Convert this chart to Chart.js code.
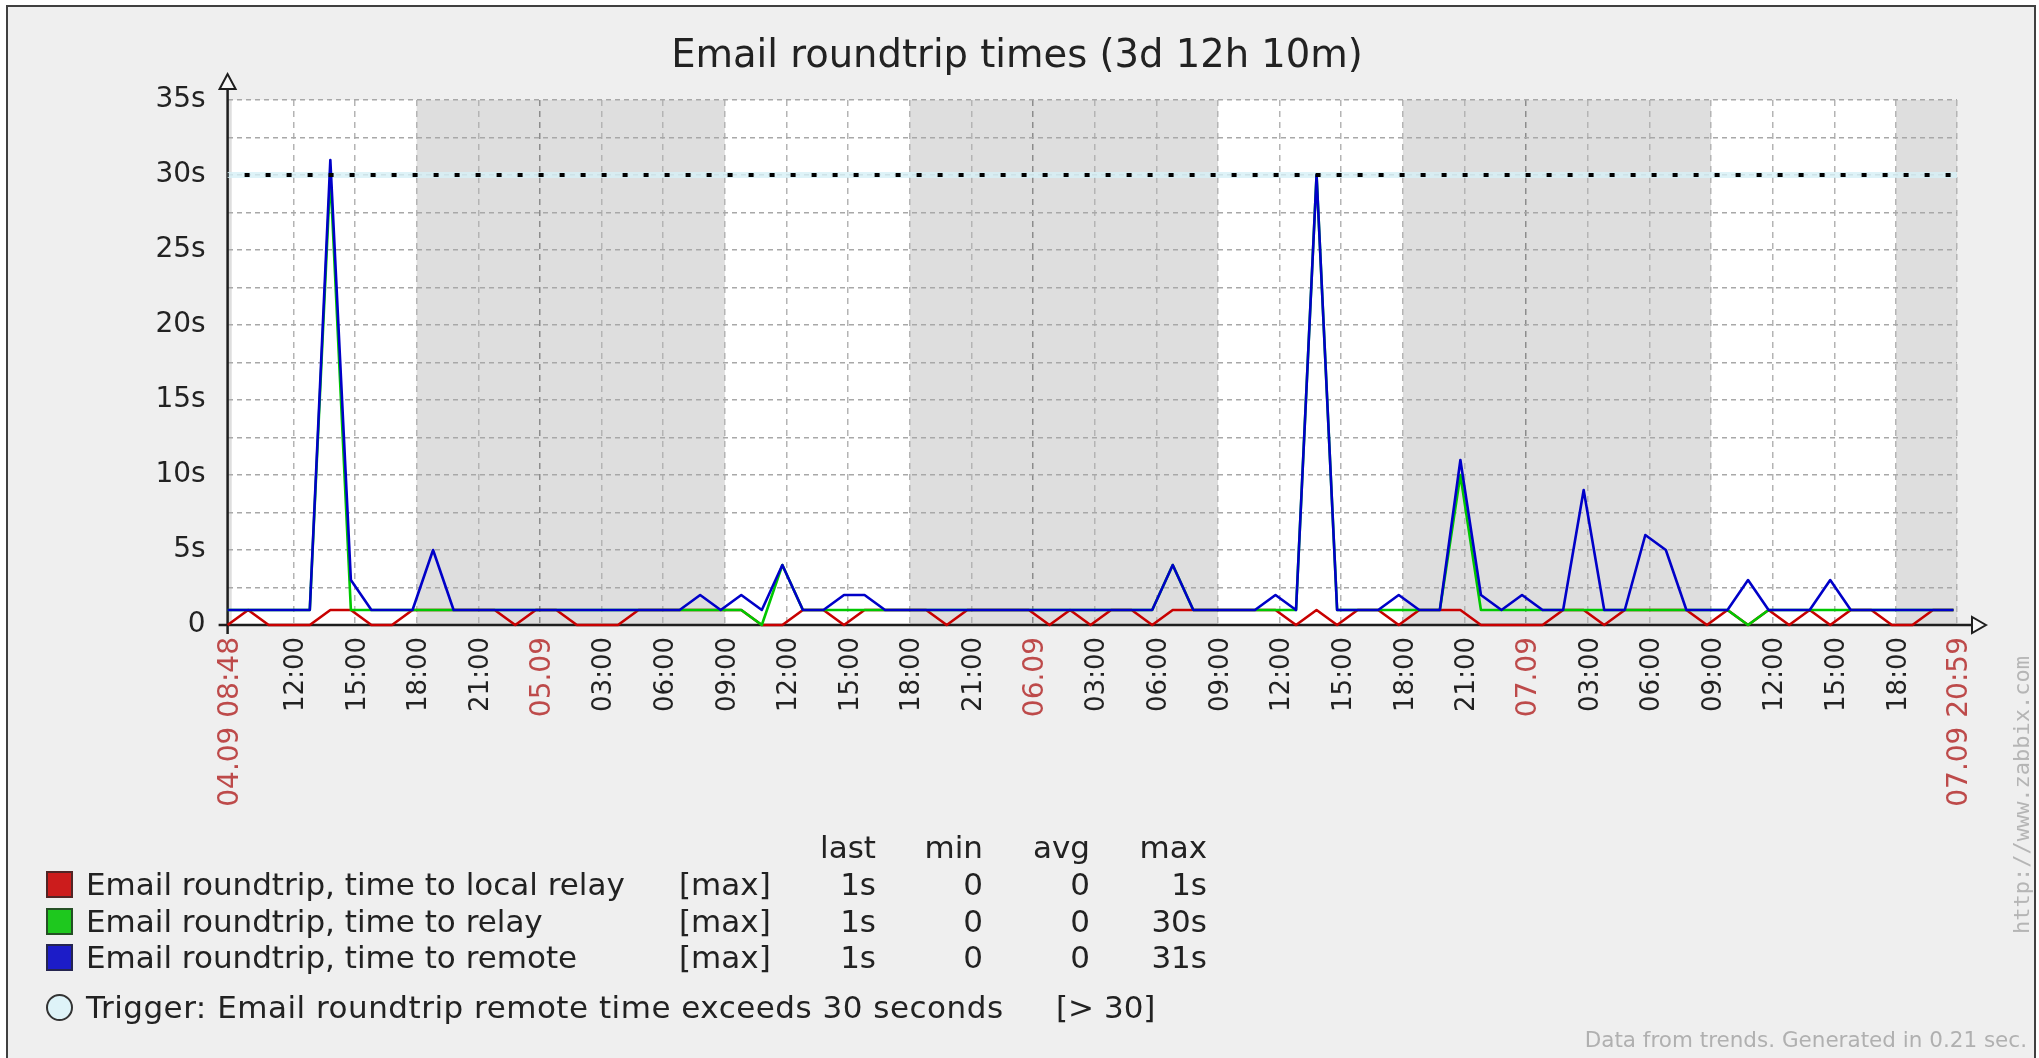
<!DOCTYPE html>
<html>
<head>
<meta charset="utf-8">
<script src="https://cdn.jsdelivr.net/npm/chart.js@4.4.1/dist/chart.umd.min.js"></script>
<style>
html,body{margin:0;padding:0;background:#ffffff;}
#wrap{position:relative;width:2039px;height:1058px;overflow:hidden;}
#frame{position:absolute;left:6px;top:5px;width:2030px;height:1100px;border:2px solid #404040;background:#efefef;box-sizing:border-box;}
#c{position:absolute;left:0;top:0;}
.t{position:absolute;font-family:"DejaVu Sans";color:#222;white-space:nowrap;}
.sq{position:absolute;width:27px;height:27px;box-sizing:border-box;}
</style>
</head>
<body>
<div id="wrap">
  <div id="frame"></div>
  <canvas id="c" width="2039" height="1058"></canvas>
  <div id="legend"></div>
</div>
<script>
// ---------------- DATA ----------------
const chartTitle = 'Email roundtrip times (3d 12h 10m)';
// hourly trend samples, hours after 04.09 08:48
const rangeEndHours = 84.17; // 07.09 20:59
const localRelay = [0,1,0,0,0,1,1,0,0,1, 1,1,1,1,0,1,1,0,0,0, 1,1,1,1,1,1,0,0,1,1,
                    0,1,1,1,1,0,1,1,1,1, 0,1,0,1,1,0,1,1,1,1, 1,1,0,1,0,1,1,0,1,1,
                    1,0,0,0,0,1,1,0,1,1, 1,1,0,1,0,1,0,1,0,1, 1,0,0,1,1];
const relay      = [1,1,1,1,1,30,1,1,1,1, 1,1,1,1,1,1,1,1,1,1, 1,1,1,1,1,1,0,4,1,1,
                    1,1,1,1,1,1,1,1,1,1, 1,1,1,1,1,1,4,1,1,1, 1,1,1,30,1,1,1,1,1,1,
                    10,1,1,1,1,1,1,1,1,1, 1,1,1,1,0,1,1,1,1,1, 1,1,1,1,1];
const remote     = [1,1,1,1,1,31,3,1,1,1, 5,1,1,1,1,1,1,1,1,1, 1,1,1,2,1,2,1,4,1,1,
                    2,2,1,1,1,1,1,1,1,1, 1,1,1,1,1,1,4,1,1,1, 1,2,1,30,1,1,1,2,1,1,
                    11,2,1,2,1,1,9,1,1,6, 5,1,1,1,3,1,1,1,3,1, 1,1,1,1,1];
const triggerValue = 30;
// non-working time periods (hours after start)
const offHours = [[0,0.2],[9.2,24.2],[33.2,48.2],[57.2,72.2],[81.2,84.17]];
// x ticks (hours after start) and their labels
const xTickValues = [0,3.2,6.2,9.2,12.2,15.2,18.2,21.2,24.2,27.2,30.2,33.2,36.2,39.2,42.2,45.2,
                     48.2,51.2,54.2,57.2,60.2,63.2,66.2,69.2,72.2,75.2,78.2,81.2,84.17];
const xTickLabels = ['04.09 08:48','12:00','15:00','18:00','21:00','05.09','03:00','06:00','09:00',
                     '12:00','15:00','18:00','21:00','06.09','03:00','06:00','09:00','12:00','15:00',
                     '18:00','21:00','07.09','03:00','06:00','09:00','12:00','15:00','18:00','07.09 20:59'];
const xDateTicks = [0,5,13,21,28];   // indices shown as dates (red)
const xDayLines = [5,13,21];         // midnight grid lines
const yTickValues = [0,2.5,5,7.5,10,12.5,15,17.5,20,22.5,25,27.5,30,32.5,35];
const yTickLabels = ['0','','5s','','10s','','15s','','20s','','25s','','30s','','35s'];
// legend table
const seriesNames = ['Email roundtrip, time to local relay','Email roundtrip, time to relay','Email roundtrip, time to remote'];
const seriesColors = ['#c80000','#00c800','#0000c8'];
const legendSwatch = ['#cc1c1c','#1ec81e','#1c1cc8'];
const seriesFunc = ['[max]','[max]','[max]'];
const colHeads = ['last','min','avg','max'];
const colLast = ['1s','1s','1s'];
const colMin = ['0','0','0'];
const colAvg = ['0','0','0'];
const colMax = ['1s','30s','31s'];
const triggerText = 'Trigger: Email roundtrip remote time exceeds 30 seconds';
const triggerCond = '[> 30]';
const footerText = 'Data from trends. Generated in 0.21 sec.';
const watermark = 'http://www.zabbix.com';

// ---------------- CHART ----------------
const FONT = 'DejaVu Sans';
const toPts = arr => arr.map((v, i) => ({x: i, y: v}));
const trigPts = [{x: 0, y: triggerValue}, {x: rangeEndHours, y: triggerValue}];

const bandPlugin = {
  id: 'bands',
  beforeDraw(chart) {
    const {ctx, chartArea: a, scales: {x}} = chart;
    ctx.save();
    ctx.fillStyle = '#ffffff';
    ctx.fillRect(a.left, a.top, a.right - a.left, a.bottom - a.top);
    ctx.fillStyle = '#dedede';
    offHours.forEach(([s, e]) => {
      const x1 = x.getPixelForValue(s), x2 = x.getPixelForValue(e);
      ctx.fillRect(x1, a.top, x2 - x1, a.bottom - a.top);
    });
    ctx.restore();
  }
};
const axesPlugin = {
  id: 'axes',
  beforeDatasetsDraw(chart) {
    const {ctx, chartArea: a} = chart;
    ctx.save();
    ctx.strokeStyle = '#1e1e1e';
    ctx.lineWidth = 2.5;
    ctx.beginPath();
    ctx.moveTo(a.left, a.bottom + 9); ctx.lineTo(a.left, a.top - 12);
    ctx.moveTo(a.left - 9, a.bottom); ctx.lineTo(a.right + 15, a.bottom);
    ctx.stroke();
    ctx.lineWidth = 2;
    ctx.fillStyle = '#f6f6f6';
    ctx.beginPath();
    ctx.moveTo(a.left, a.top - 26); ctx.lineTo(a.left - 8, a.top - 11); ctx.lineTo(a.left + 8, a.top - 11);
    ctx.closePath(); ctx.fill(); ctx.stroke();
    ctx.beginPath();
    ctx.moveTo(a.right + 29, a.bottom); ctx.lineTo(a.right + 15, a.bottom - 8); ctx.lineTo(a.right + 15, a.bottom + 8);
    ctx.closePath(); ctx.fill(); ctx.stroke();
    ctx.restore();
  }
};

const lineDs = (label, arr, color, order) => ({
  label, data: toPts(arr), borderColor: color, borderWidth: 2.6, pointRadius: 0, pointHoverRadius: 0,
  tension: 0, fill: false, order, clip: false, borderJoinStyle: 'round'
});

new Chart(document.getElementById('c'), {
  type: 'line',
  data: {
    datasets: [
      {label: 'trigger band', data: trigPts, borderColor: 'rgba(214,240,246,0.8)', borderWidth: 6,
       pointRadius: 0, order: 5, clip: false},
      lineDs(seriesNames[0], localRelay, seriesColors[0], 4),
      lineDs(seriesNames[1], relay, seriesColors[1], 3),
      lineDs(seriesNames[2], remote, seriesColors[2], 2),
      {label: triggerText, data: trigPts, borderColor: '#000000', borderWidth: 4, borderDash: [5, 16],
       borderDashOffset: 4, borderCapStyle: 'butt', pointRadius: 0, order: 0, clip: false}
    ]
  },
  options: {
    responsive: false,
    animation: false,
    events: [],
    layout: {padding: {top: 0, left: 77, right: 82, bottom: 0}},
    plugins: {
      legend: {display: false},
      tooltip: {enabled: false},
      title: {display: true, text: chartTitle, color: '#222',
              font: {family: FONT, size: 38.5, weight: 'normal', lineHeight: 1.2},
              padding: {top: 34, bottom: 19.8}}
    },
    scales: {
      x: {
        type: 'linear', min: 0, max: rangeEndHours,
        afterFit: s => { s.height = 433; },
        afterBuildTicks: s => { s.ticks = xTickValues.map(v => ({value: v})); },
        ticks: {
          autoSkip: false, maxRotation: 90, minRotation: 90, padding: 12, labelOffset: 3,
          callback: (v, i) => xTickLabels[i],
          color: c => xDateTicks.includes(c.index) ? '#bd4a4a' : '#222',
          font: c => ({family: FONT, size: xDateTicks.includes(c.index) ? 28 : 26})
        },
        grid: {
          drawTicks: false, lineWidth: 1.5,
          color: c => c.index === 0 ? 'rgba(0,0,0,0)' : (xDayLines.includes(c.index) ? '#8c8c8c' : '#b4b4b4')
        },
        border: {display: false, dash: [6, 5]}
      },
      y: {
        type: 'linear', min: 0, max: 35,
        afterFit: s => { s.width = 150.6; },
        afterBuildTicks: s => { s.ticks = yTickValues.map(v => ({value: v})); },
        ticks: {
          autoSkip: false, padding: 22, color: '#222',
          font: {family: FONT, size: 28},
          callback: (v, i) => yTickLabels[i]
        },
        grid: {
          drawTicks: false, lineWidth: 1.5,
          color: c => c.index === 0 ? 'rgba(0,0,0,0)' : '#a8a8a8'
        },
        border: {display: false, dash: [5, 4]}
      }
    }
  },
  plugins: [bandPlugin, axesPlugin]
});

// ---------------- LEGEND (HTML) ----------------
const L = document.getElementById('legend');
const FS = 31, LH = 36;
function txt(s, left, cy, opts = {}) {
  const d = document.createElement('div');
  d.className = 't';
  d.textContent = s;
  d.style.fontSize = (opts.size || FS) + 'px';
  d.style.lineHeight = (opts.lh || LH) + 'px';
  d.style.top = (cy - (opts.lh || LH) / 2) + 'px';
  if (opts.right !== undefined) {
    d.style.left = (opts.right - 800) + 'px';
    d.style.width = '800px';
    d.style.textAlign = 'right';
  } else {
    d.style.left = left + 'px';
  }
  if (opts.color) d.style.color = opts.color;
  if (opts.ls) d.style.letterSpacing = opts.ls;
  L.appendChild(d);
  return d;
}
const colRight = [876, 983, 1090, 1207];
const headY = 847, rowY = [884, 921, 957], trigY = 1007;
colHeads.forEach((h, i) => txt(h, 0, headY, {right: colRight[i]}));
seriesNames.forEach((n, r) => {
  const sq = document.createElement('div');
  sq.className = 'sq';
  sq.style.left = '46px';
  sq.style.top = (rowY[r] - 13.5) + 'px';
  sq.style.background = legendSwatch[r];
  sq.style.border = '2px solid rgba(40,40,40,0.75)';
  L.appendChild(sq);
  txt(n, 86, rowY[r]);
  txt(seriesFunc[r], 679, rowY[r]);
  [colLast, colMin, colAvg, colMax].forEach((col, ci) => txt(col[r], 0, rowY[r], {right: colRight[ci]}));
});
const circ = document.createElement('div');
circ.className = 'sq';
circ.style.left = '46px';
circ.style.top = (trigY - 13.5) + 'px';
circ.style.borderRadius = '50%';
circ.style.background = '#def3f8';
circ.style.border = '2px solid #333';
L.appendChild(circ);
txt(triggerText, 86, trigY, {ls: '0.5px'});
txt(triggerCond, 1056, trigY);
// footer
txt(footerText, 0, 1040, {right: 2027, size: 21.5, lh: 26, color: '#b0b0b0'});
// watermark (vertical)
const wm = document.createElement('div');
wm.className = 't';
wm.textContent = watermark;
wm.style.fontFamily = '"DejaVu Sans Mono"';
wm.style.fontSize = '22px';
wm.style.lineHeight = '24px';
wm.style.color = '#b5b5b5';
wm.style.width = '320px';
wm.style.textAlign = 'center';
wm.style.left = (2022 - 160) + 'px';
wm.style.top = (795 - 12) + 'px';
wm.style.transform = 'rotate(-90deg)';
L.appendChild(wm);
</script>
</body>
</html>
